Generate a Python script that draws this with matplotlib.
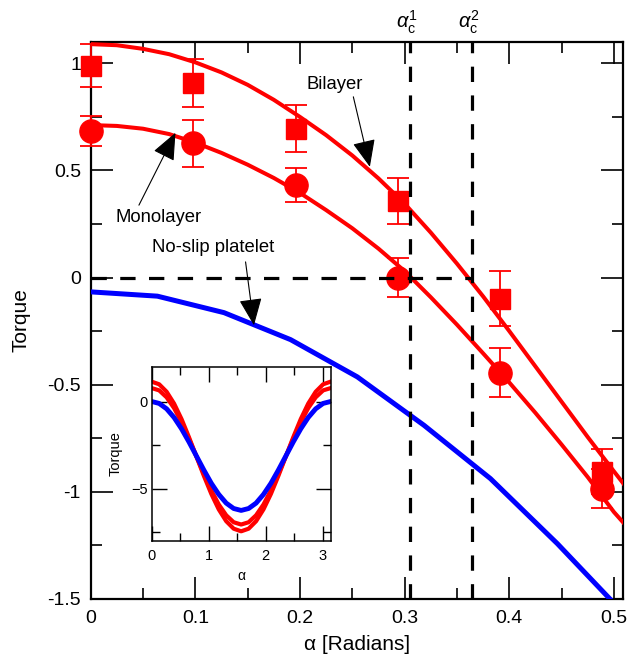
import matplotlib
matplotlib.use('Agg')
import matplotlib.pyplot as plt
from matplotlib.ticker import FixedLocator, FixedFormatter, MultipleLocator

plt.rcParams['font.family'] = ['Liberation Sans', 'DejaVu Sans']
plt.rcParams['mathtext.fontset'] = 'custom'
plt.rcParams['mathtext.rm'] = 'Liberation Sans'
plt.rcParams['mathtext.it'] = 'Liberation Sans:italic'
plt.rcParams['mathtext.bf'] = 'Liberation Sans:bold'
plt.rcParams['axes.unicode_minus'] = False

# ---------------- data ----------------
x_data = [0.0, 0.098, 0.196, 0.294, 0.391, 0.489]
bilayer_y = [0.99, 0.909, 0.696, 0.358, -0.098, -0.908]
bilayer_err = [0.10, 0.111, 0.109, 0.109, 0.13, 0.105]
mono_y = [0.684, 0.626, 0.431, 0.0, -0.444, -0.986]
mono_err = [0.072, 0.112, 0.08, 0.092, 0.113, 0.09]

fit_x = [0.0, 0.025, 0.05, 0.075, 0.1, 0.125, 0.15, 0.175, 0.2, 0.225, 0.25,
         0.275, 0.3, 0.325, 0.35, 0.375, 0.4, 0.425, 0.45, 0.475, 0.5, 0.51]
bilayer_fit = [1.090, 1.085, 1.068, 1.043, 1.005, 0.958, 0.900, 0.830, 0.750,
               0.665, 0.570, 0.463, 0.345, 0.210, 0.065, -0.088, -0.250, -0.415,
               -0.580, -0.745, -0.905, -0.968]
mono_fit = [0.712, 0.708, 0.695, 0.670, 0.630, 0.582, 0.527, 0.465, 0.395,
            0.315, 0.230, 0.135, 0.030, -0.092, -0.220, -0.354, -0.490, -0.632,
            -0.780, -0.932, -1.095, -1.150]

noslip_x = [0.0, 0.0637, 0.1274, 0.191, 0.2548, 0.3185, 0.382, 0.446, 0.5096]
noslip_y = [-0.067, -0.087, -0.164, -0.29, -0.464, -0.69, -0.939, -1.243, -1.57]

alpha_c = [0.3048, 0.364]
alpha_c_labels = [r'$\alpha_\mathrm{c}^1$', r'$\alpha_\mathrm{c}^2$']

x_ticks = [0.0, 0.1, 0.2, 0.3, 0.4, 0.5]
x_ticklabels = ['0', '0.1', '0.2', '0.3', '0.4', '0.5']
y_ticks = [-1.5, -1.0, -0.5, 0.0, 0.5, 1.0]
y_ticklabels = ['-1.5', '-1', '-0.5', '0', '0.5', '1']

# inset (full period)
inset_x = [0.0, 0.131, 0.262, 0.393, 0.524, 0.654, 0.785, 0.916, 1.047, 1.178,
           1.309, 1.440, 1.571, 1.702, 1.833, 1.963, 2.094, 2.225, 2.356, 2.487,
           2.618, 2.749, 2.880, 3.011, 3.142]
inset_noslip = [0.0, -0.11, -0.42, -0.92, -1.57, -2.32, -3.13, -3.94, -4.70,
                -5.34, -5.84, -6.15, -6.26, -6.15, -5.84, -5.34, -4.70, -3.94,
                -3.13, -2.32, -1.57, -0.92, -0.42, -0.11, 0.0]
inset_bilayer = [1.14, 0.99, 0.56, -0.12, -1.01, -2.05, -3.16, -4.27, -5.31,
                 -6.20, -6.88, -7.31, -7.46, -7.31, -6.88, -6.20, -5.31, -4.27,
                 -3.16, -2.05, -1.01, -0.12, 0.56, 0.99, 1.14]
inset_mono = [0.77, 0.64, 0.24, -0.38, -1.19, -2.14, -3.15, -4.16, -5.11,
              -5.92, -6.54, -6.94, -7.07, -6.94, -6.54, -5.92, -5.11, -4.16,
              -3.15, -2.14, -1.19, -0.38, 0.24, 0.64, 0.77]
inset_xticks = [0, 1, 2, 3]
inset_xticklabels = ['0', '1', '2', '3']
inset_yticks = [-5, 0]
inset_yticklabels = ['\u22125', '0']

# ---------------- figure ----------------
W, H = 631, 658
fig = plt.figure(figsize=(W / 100, H / 100), dpi=100)
ax = fig.add_axes([90.7 / W, 1 - 598.7 / H, (623.3 - 90.7) / W, (598.7 - 42) / H])

ax.plot(fit_x, bilayer_fit, color='red', lw=2.9, zorder=3)
ax.plot(fit_x, mono_fit, color='red', lw=2.9, zorder=3)
ax.plot(noslip_x, noslip_y, color='blue', lw=3.6, zorder=3)

ax.errorbar(x_data, bilayer_y, yerr=bilayer_err, fmt='none', ecolor='red',
            elinewidth=1.3, capsize=8, capthick=1.3, zorder=4, clip_on=False)
ax.errorbar(x_data, mono_y, yerr=mono_err, fmt='none', ecolor='red',
            elinewidth=1.3, capsize=8, capthick=1.3, zorder=4, clip_on=False)
ax.plot(x_data, bilayer_y, 's', color='red', ms=14.6, mec='red', zorder=5, clip_on=False)
ax.plot(x_data, mono_y, 'o', color='red', ms=16.7, mec='red', zorder=5, clip_on=False)

dash = (0, (4.8, 4.2))
for xc in alpha_c:
    ax.axvline(xc, color='black', lw=2.3, ls=dash, zorder=6)
ax.plot([0, alpha_c[1]], [0, 0], color='black', lw=2.3, ls=dash, zorder=6)

for xc, lab in zip(alpha_c, alpha_c_labels):
    ax.annotate(lab, xy=(xc, 1.1), xytext=(-2, 4), textcoords='offset points',
                ha='center', va='bottom', fontsize=14.5, annotation_clip=False)

ax.set_xlim(0, 0.509)
ax.set_ylim(-1.5, 1.1)
ax.xaxis.set_major_locator(FixedLocator(x_ticks))
ax.xaxis.set_major_formatter(FixedFormatter(x_ticklabels))
ax.xaxis.set_minor_locator(MultipleLocator(0.05))
ax.yaxis.set_major_locator(FixedLocator(y_ticks))
ax.yaxis.set_major_formatter(FixedFormatter(y_ticklabels))
ax.yaxis.set_minor_locator(MultipleLocator(0.25))
ax.tick_params(which='both', direction='in', top=True, right=True, width=1.2)
ax.tick_params(which='major', length=16, labelsize=14)
ax.tick_params(axis='x', which='major', pad=8)
ax.tick_params(axis='y', which='major', pad=7)
ax.tick_params(which='minor', length=8)
for s in ax.spines.values():
    s.set_linewidth(1.6)

ax.set_xlabel('\u03b1 [Radians]', fontsize=15, labelpad=6)
ax.set_ylabel('Torque', fontsize=15, labelpad=12)

arrow = dict(arrowstyle='-|>,head_length=0.85,head_width=0.36', color='black',
             lw=0.8, shrinkA=0, shrinkB=0, mutation_scale=20)
ax.text(0.2063, 0.880, 'Bilayer', fontsize=13.3, ha='left', va='baseline')
ax.annotate('', xy=(0.2668, 0.517), xytext=(0.251, 0.844), arrowprops=arrow)
ax.text(0.0648, 0.26, 'Monolayer', fontsize=13.3, ha='center', va='baseline')
ax.annotate('', xy=(0.081, 0.676), xytext=(0.0461, 0.338), arrowprops=arrow)
ax.text(0.117, 0.117, 'No-slip platelet', fontsize=13.3, ha='center', va='baseline')
ax.annotate('', xy=(0.156, -0.223), xytext=(0.148, 0.073), arrowprops=arrow)

# ---------------- inset ----------------
axi = fig.add_axes([151.7 / W, 1 - 540.7 / H, (330.6 - 151.7) / W, (540.7 - 366.7) / H])
axi.plot(inset_x, inset_bilayer, color='red', lw=3.0)
axi.plot(inset_x, inset_mono, color='red', lw=3.0)
axi.plot(inset_x, inset_noslip, color='blue', lw=3.5)
axi.set_xlim(0, 3.142)
axi.set_ylim(-8, 2)
axi.xaxis.set_major_locator(FixedLocator(inset_xticks))
axi.xaxis.set_major_formatter(FixedFormatter(inset_xticklabels))
axi.xaxis.set_minor_locator(MultipleLocator(0.5))
axi.yaxis.set_major_locator(FixedLocator(inset_yticks))
axi.yaxis.set_major_formatter(FixedFormatter(inset_yticklabels))
axi.yaxis.set_minor_locator(MultipleLocator(2.5))
axi.tick_params(which='both', direction='in', top=True, right=True, width=1.0)
axi.tick_params(which='major', length=11, labelsize=10.5)
axi.tick_params(axis='x', which='major', pad=6)
axi.tick_params(axis='y', which='major', pad=3)
axi.tick_params(which='minor', length=6)
for s in axi.spines.values():
    s.set_linewidth(1.1)
axi.set_xlabel('\u03b1', fontsize=10, labelpad=4)
axi.set_ylabel('Torque', fontsize=10.5, labelpad=6)

fig.savefig('out.png', dpi=100)
